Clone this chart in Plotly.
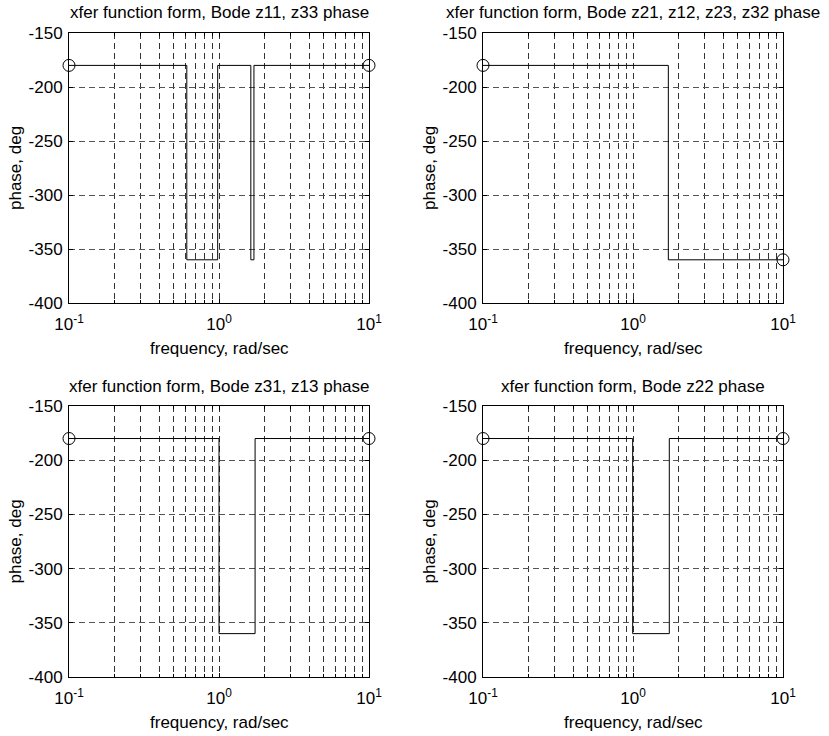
import plotly.graph_objects as go

W, H = 829, 736

titles = [
    "xfer function form, Bode z11, z33 phase",
    "xfer function form, Bode z21, z12, z23, z32 phase",
    "xfer function form, Bode z31, z13 phase",
    "xfer function form, Bode z22 phase",
]

# step breakpoints (frequency, rad/sec) and phase (deg), drawn with hv shape
freq_z11 = [0.1, 0.61, 0.98, 1.63, 1.71, 10]
phase_z11 = [-180, -360, -180, -360, -180, -180]
freq_z21 = [0.1, 1.72, 10]
phase_z21 = [-180, -360, -360]
freq_z31 = [0.1, 1.0, 1.74, 10]
phase_z31 = [-180, -360, -180, -180]
freq_z22 = [0.1, 0.995, 1.746, 10]
phase_z22 = [-180, -360, -180, -180]

x_major = [0.1, 1, 10]
x_major_text = ["10<sup>-1</sup>", "10<sup>0</sup>", "10<sup>1</sup>"]
x_minor = [0.2, 0.3, 0.4, 0.5, 0.6, 0.7, 0.8, 0.9, 2, 3, 4, 5, 6, 7, 8, 9]
y_ticks = [-400, -350, -300, -250, -200, -150]
y_ticktext = ["-400", "-350", "-300", "-250", "-200", "-150"]

series = [(freq_z11, phase_z11), (freq_z21, phase_z21), (freq_z31, phase_z31), (freq_z22, phase_z22)]

# plot-area pixel boxes (left, right, top, bottom)
boxes = [(69, 369, 33, 303), (483, 783, 33, 303), (69, 369, 406, 677), (483, 783, 406, 677)]

FONT = "Liberation Sans, Arial, sans-serif"
FS = 17
fig = go.Figure()
annotations = []
layout = dict(template="none", width=W, height=H,
              margin=dict(l=0, r=0, t=0, b=0, pad=0, autoexpand=False),
              paper_bgcolor="white", plot_bgcolor="white", showlegend=False,
              hovermode=False,
              font=dict(family=FONT, size=FS, color="black"))

for i, ((f, p), (l, r, t, b), title) in enumerate(zip(series, boxes, titles)):
    n = "" if i == 0 else str(i + 1)
    xa, ya = "x" + n, "y" + n
    fig.add_trace(go.Scatter(x=f, y=p, mode="lines", line=dict(color="black", width=1, shape="hv"),
                             xaxis=xa, yaxis=ya, hoverinfo="skip"))
    fig.add_trace(go.Scatter(x=[f[0], f[-1]], y=[p[0], p[-1]], mode="markers",
                             marker=dict(symbol="circle-open", size=12, color="black", line=dict(width=1)),
                             xaxis=xa, yaxis=ya, cliponaxis=False, hoverinfo="skip"))
    dom_x = [l / W, r / W]
    dom_y = [1 - b / H, 1 - t / H]
    layout["xaxis" + n] = dict(
        domain=dom_x, anchor=ya, type="log", range=[-1, 1], automargin=False,
        tickmode="array", tickvals=x_major, ticktext=x_major_text,
        ticks="inside", ticklen=4, tickcolor="black", showline=True, linecolor="black",
        linewidth=1, mirror="ticks", showgrid=True, gridcolor="#333333", griddash="6px,4px",
        gridwidth=1, zeroline=False, tickfont=dict(size=FS, family=FONT), ticklabelstandoff=6,
        minor=dict(tickmode="array", tickvals=x_minor, ticks="inside", ticklen=3, tickcolor="black",
                   showgrid=True, gridcolor="#333333", griddash="6px,4px", gridwidth=1),
    )
    layout["yaxis" + n] = dict(
        domain=dom_y, anchor=xa, range=[-400, -150], automargin=False,
        tickmode="array", tickvals=y_ticks, ticktext=y_ticktext,
        ticks="inside", ticklen=4, tickcolor="black", showline=True, linecolor="black",
        linewidth=1, mirror="ticks", showgrid=True, gridcolor="#555555", griddash="6px,4px",
        gridwidth=1, zeroline=False, tickfont=dict(size=FS, family=FONT), ticklabelstandoff=2,
    )
    cx = (l + r) / 2 / W
    annotations.append(dict(text=title, x=cx, y=1 - (t - 20) / H, xref="paper", yref="paper",
                            xanchor="center", yanchor="middle", showarrow=False,
                            font=dict(size=FS, family=FONT)))
    annotations.append(dict(text="frequency, rad/sec", x=cx, y=1 - (b + 45) / H, xref="paper", yref="paper",
                            xanchor="center", yanchor="middle", showarrow=False,
                            font=dict(size=FS, family=FONT)))
    annotations.append(dict(text="phase, deg", x=(l - 54) / W, y=1 - (t + b) / 2 / H, xref="paper", yref="paper",
                            xanchor="center", yanchor="middle", showarrow=False, textangle=-90,
                            font=dict(size=FS, family=FONT)))

layout["annotations"] = annotations
fig.update_layout(**layout)
fig.write_html("out.html", config={"displayModeBar": False, "staticPlot": True},
               post_script="document.body.style.margin='0';")
